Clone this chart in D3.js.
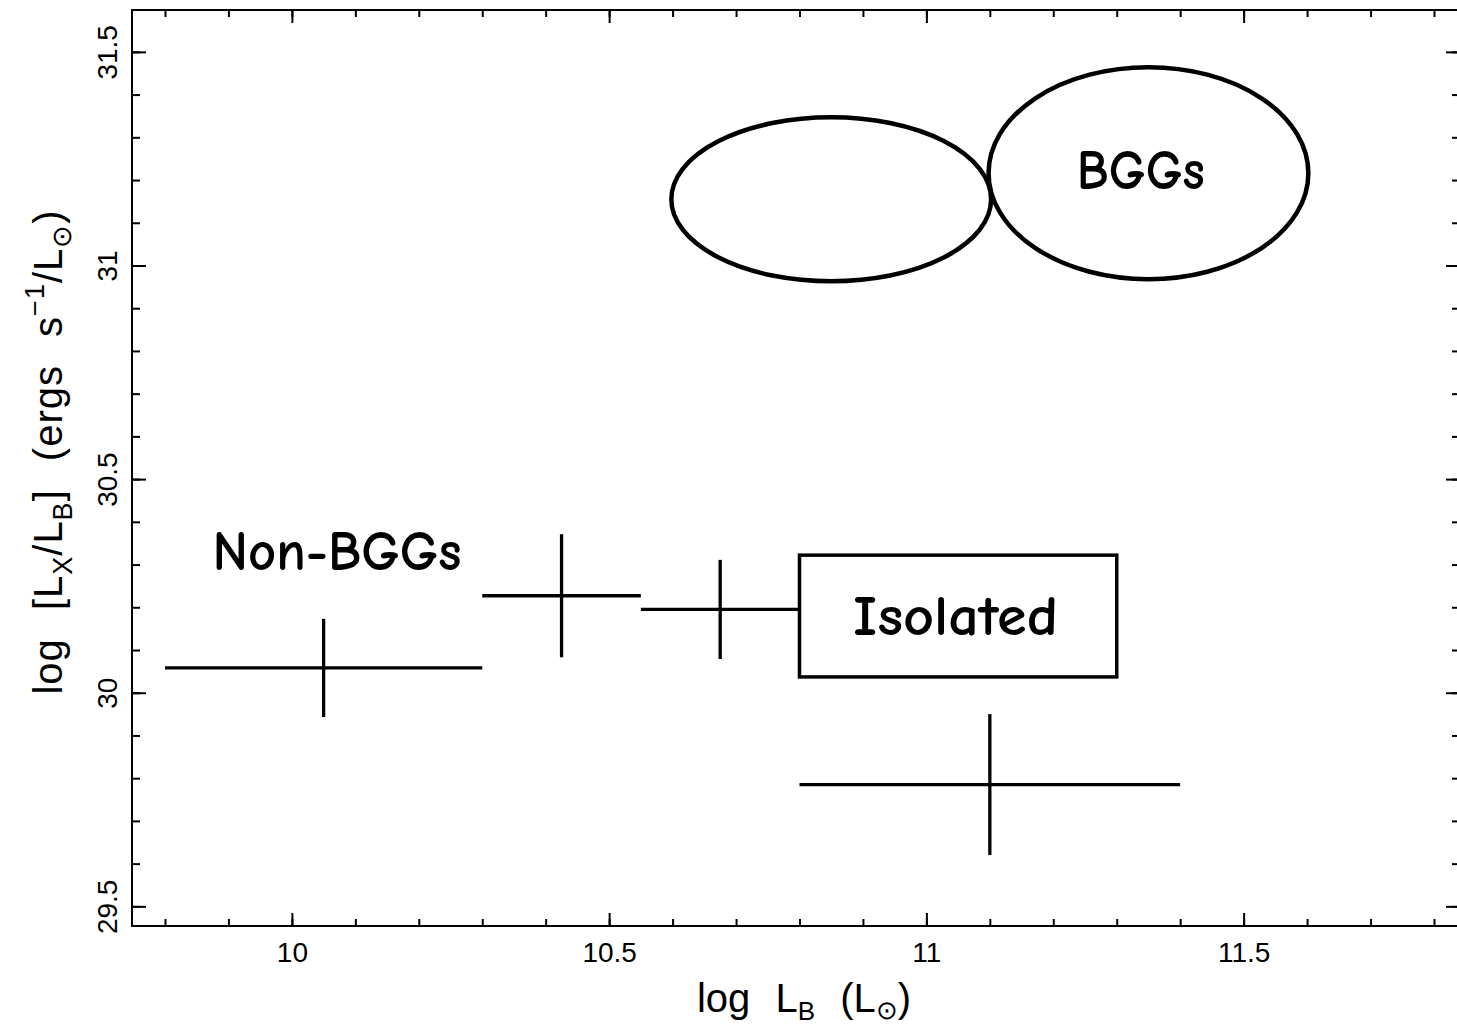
<!DOCTYPE html>
<html>
<head>
<meta charset="utf-8">
<script src="https://cdn.jsdelivr.net/npm/d3@7"></script>
<style>
  html, body { margin: 0; padding: 0; background: #fff; }
  svg { display: block; }
</style>
</head>
<body>
<svg id="chart" width="1457" height="1030"></svg>
<script>
// ---- Axis ticks ----
const xMajorTicks = [10, 10.5, 11, 11.5];
const yMajorTicks = [29.5, 30, 30.5, 31, 31.5];
const xMinorTicks = d3.range(98, 119).map(d => d / 10);
const yMinorTicks = d3.range(295, 316).map(d => d / 10);

// ---- Non-BGG / isolated bins: centre, x extent, y value, y half-error ----
const binX    = [10.05, 10.425, 10.675, 11.1];
const binXlo  = [9.8, 10.3, 10.55, 10.8];
const binXhi  = [10.3, 10.55, 10.8, 11.4];
const binY    = [30.058, 30.227, 30.195, 29.785];
const binYerr = [0.115, 0.144, 0.116, 0.165];

// ---- BGG regions (ellipses in data units) ----
const bggCx = [10.85, 11.35];
const bggCy = [31.155, 31.216];
const bggRx = [0.252, 0.252];
const bggRy = [0.192, 0.248];

// ---- Isolated-galaxy box ----
const isoX = [10.8, 11.3];
const isoY = [30.037, 30.322];

// ---- Annotations (centre x, baseline y in data units) ----
const noteText = ["Non-BGGs", "BGGs", "Isolated"];
const noteX = [10.071, 11.338, 11.046];
const noteY = [30.287, 31.179, 30.135];

(function draw() {
  const plotLeft = 132, plotRight = 1460, plotTop = 10, plotBottom = 926;
  const svg = d3.select("#chart");

  const x = d3.scaleLinear().domain([9.748, 11.841]).range([plotLeft, plotRight]);
  const y = d3.scaleLinear().domain([29.454, 31.598]).range([plotBottom, plotTop]);

  const tickFont = "'Liberation Sans', Arial, Helvetica, sans-serif";
  const noteFont = "'Comic Sans MS', 'Comic Neue', 'Open Sans', sans-serif";

  function styleAxis(g) {
    g.select(".domain").remove();
    g.selectAll(".tick line").attr("stroke", "#000").attr("stroke-width", 2);
    g.attr("font-size", 28).attr("font-family", tickFont);
    g.selectAll("text").attr("fill", "#000");
  }

  // minor ticks on all four sides
  svg.append("g").attr("transform", `translate(0,${plotBottom})`)
    .call(d3.axisBottom(x).tickValues(xMinorTicks).tickSize(-7).tickFormat("")).call(styleAxis);
  svg.append("g").attr("transform", `translate(0,${plotTop})`)
    .call(d3.axisTop(x).tickValues(xMinorTicks).tickSize(-7).tickFormat("")).call(styleAxis);
  svg.append("g").attr("transform", `translate(${plotLeft},0)`)
    .call(d3.axisLeft(y).tickValues(yMinorTicks).tickSize(-8).tickFormat("")).call(styleAxis);
  svg.append("g").attr("transform", `translate(${plotRight},0)`)
    .call(d3.axisRight(y).tickValues(yMinorTicks).tickSize(-8).tickFormat("")).call(styleAxis);

  // major ticks with labels
  svg.append("g").attr("transform", `translate(0,${plotBottom})`)
    .call(d3.axisBottom(x).tickValues(xMajorTicks).tickSize(-13).tickPadding(16).tickFormat(d => String(d)))
    .call(styleAxis);
  svg.append("g").attr("transform", `translate(0,${plotTop})`)
    .call(d3.axisTop(x).tickValues(xMajorTicks).tickSize(-13).tickFormat(""))
    .call(styleAxis);
  const yAxisG = svg.append("g").attr("transform", `translate(${plotLeft},0)`)
    .call(d3.axisLeft(y).tickValues(yMajorTicks).tickSize(-14).tickFormat(d => String(d)))
    .call(styleAxis);
  yAxisG.selectAll(".tick text")
    .attr("transform", "rotate(-90)")
    .attr("x", 0).attr("y", -15).attr("dy", 0)
    .attr("text-anchor", "middle");
  svg.append("g").attr("transform", `translate(${plotRight},0)`)
    .call(d3.axisRight(y).tickValues(yMajorTicks).tickSize(-14).tickFormat(""))
    .call(styleAxis);

  // frame
  svg.append("rect")
    .attr("x", plotLeft).attr("y", plotTop)
    .attr("width", plotRight - plotLeft).attr("height", plotBottom - plotTop)
    .attr("fill", "none").attr("stroke", "#000").attr("stroke-width", 2);

  // x-axis title: log L_B (L_sun)
  const xt = svg.append("text")
    .attr("x", 804).attr("y", 1012)
    .attr("text-anchor", "middle")
    .attr("font-family", tickFont).attr("font-size", 40)
    .attr("word-spacing", 14).attr("fill", "#000");
  xt.append("tspan").text("log L");
  xt.append("tspan").attr("font-size", 26).attr("dy", 8).text("B");
  xt.append("tspan").attr("dy", -8).text(" (L");
  xt.append("tspan").attr("font-size", 26).attr("dy", 7).text("\u2299");
  xt.append("tspan").attr("dy", -7).text(")");

  // y-axis title: log [L_X/L_B] (ergs s^-1/L_sun)
  const yt = svg.append("text")
    .attr("transform", "translate(62,452) rotate(-90)")
    .attr("text-anchor", "middle")
    .attr("font-family", tickFont).attr("font-size", 40)
    .attr("word-spacing", 16).attr("letter-spacing", 1).attr("fill", "#000");
  yt.append("tspan").text("log [L");
  yt.append("tspan").attr("font-size", 27).attr("dy", 10).text("X");
  yt.append("tspan").attr("dy", -10).text("/L");
  yt.append("tspan").attr("font-size", 27).attr("dy", 10).text("B");
  yt.append("tspan").attr("dy", -10).text("] (ergs s");
  yt.append("tspan").attr("font-size", 27).attr("dy", -18).text("\u22121");
  yt.append("tspan").attr("dy", 18).text("/L");
  yt.append("tspan").attr("font-size", 27).attr("dy", 9).text("\u2299");
  yt.append("tspan").attr("dy", -9).text(")");

  // BGG ellipses
  svg.append("g").selectAll("ellipse")
    .data(d3.range(bggCx.length))
    .join("ellipse")
    .attr("cx", i => x(bggCx[i]))
    .attr("cy", i => y(bggCy[i]))
    .attr("rx", i => x(bggCx[i] + bggRx[i]) - x(bggCx[i]))
    .attr("ry", i => y(bggCy[i]) - y(bggCy[i] + bggRy[i]))
    .attr("fill", "none").attr("stroke", "#000").attr("stroke-width", 4.5);

  // isolated box
  svg.append("rect")
    .attr("x", x(isoX[0])).attr("y", y(isoY[1]))
    .attr("width", x(isoX[1]) - x(isoX[0]))
    .attr("height", y(isoY[0]) - y(isoY[1]))
    .attr("fill", "none").attr("stroke", "#000").attr("stroke-width", 3.5);

  // error-bar crosses
  const bins = svg.append("g").attr("stroke", "#000").attr("stroke-width", 3.3);
  const idx = d3.range(binX.length);
  bins.selectAll("line.h").data(idx).join("line").attr("class", "h")
    .attr("x1", i => x(binXlo[i])).attr("x2", i => x(binXhi[i]))
    .attr("y1", i => y(binY[i])).attr("y2", i => y(binY[i]));
  bins.selectAll("line.v").data(idx).join("line").attr("class", "v")
    .attr("x1", i => x(binX[i])).attr("x2", i => x(binX[i]))
    .attr("y1", i => y(binY[i] - binYerr[i])).attr("y2", i => y(binY[i] + binYerr[i]));

  // annotations
  const noteWidth = [249, 128, 205];
  svg.append("g").selectAll("text")
    .data(d3.range(noteText.length))
    .join("text")
    .attr("x", i => x(noteX[i]))
    .attr("y", i => y(noteY[i]))
    .attr("text-anchor", "middle")
    .attr("font-family", noteFont).attr("font-size", 57)
    .attr("font-weight", 700)
    .attr("textLength", i => noteWidth[i])
    .attr("lengthAdjust", "spacingAndGlyphs")
    .attr("fill", "#000")
    .text(i => noteText[i]);
})();
</script>
</body>
</html>
